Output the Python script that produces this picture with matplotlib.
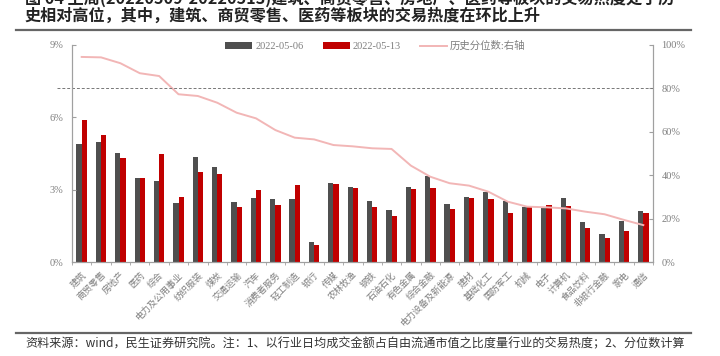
import numpy as np
import matplotlib.pyplot as plt

plt.rcParams['font.family'] = ['Liberation Serif', 'Noto Sans CJK SC', 'DejaVu Sans']

categories = ['建筑', '商贸零售', '房地产', '医药', '综合', '电力及公用事业', '纺织服装', '煤炭',
              '交通运输', '汽车', '消费者服务', '轻工制造', '银行', '传媒', '农林牧渔', '钢铁',
              '石油石化', '有色金属', '综合金融', '电力设备及新能源', '建材', '基础化工', '国防军工',
              '机械', '电子', '计算机', '食品饮料', '非银行金融', '家电', '通信']
heat_0506 = [4.89, 4.98, 4.52, 3.47, 3.36, 2.43, 4.37, 3.95, 2.50, 2.65, 2.61, 2.60, 0.82, 3.28, 3.10,
             2.53, 2.16, 3.10, 3.57, 2.39, 2.70, 2.92, 2.54, 2.30, 2.25, 2.67, 1.65, 1.15, 1.71, 2.10]
heat_0513 = [5.88, 5.27, 4.33, 3.47, 4.47, 2.68, 3.73, 3.64, 2.30, 2.97, 2.35, 3.18, 0.69, 3.22, 3.07,
             2.28, 1.91, 3.01, 3.06, 2.20, 2.65, 2.63, 2.02, 2.28, 2.36, 2.32, 1.41, 0.99, 1.27, 2.02]
percentile = [94.5, 94.3, 91.6, 87.0, 85.7, 77.3, 76.5, 73.4, 68.8, 66.2, 60.8, 57.3, 56.5, 53.9, 53.3,
              52.4, 52.1, 44.4, 39.3, 36.3, 35.2, 32.4, 27.8, 25.5, 25.2, 24.7, 23.2, 22.0, 19.4, 17.0]

title_l1 = '图 04 上周(20220509-20220513)建筑、商贸零售、房地产、医药等板块的交易热度处于历'
title_l2 = '史相对高位，其中，建筑、商贸零售、医药等板块的交易热度在环比上升'
source = '资料来源：wind，民生证券研究院。注：1、以行业日均成交金额占自由流通市值之比度量行业的交易热度；2、分位数计算'

gray, red, pink = '#4f4f4f', '#c00000', '#f2b6b6'
axis_c = '#a0a0a0'
txt_c = '#7f7f7f'

fig = plt.figure(figsize=(7.2, 3.56), dpi=100)
ax = fig.add_axes([72 / 720, 1 - 262 / 356, 581 / 720, 217 / 356])
ax2 = ax.twinx()

x = np.arange(len(categories))
w = 0.27
b1 = ax.bar(x - w / 2, heat_0506, w, color=gray, label='2022-05-06')
b2 = ax.bar(x + w / 2, heat_0513, w, color=red, label='2022-05-13')
l1, = ax2.plot(x, percentile, color=pink, lw=1.4, label='历史分位数:右轴')
ax2.plot([-1.27, len(categories) - 0.5], [80, 80], color='#777777', lw=0.7,
         dashes=(3, 2), clip_on=False)

ax.set_xlim(-0.5, len(categories) - 0.5)
ax.set_ylim(0, 9)
ax2.set_ylim(0, 100)
ax.set_yticks([0, 3, 6, 9])
ax.set_yticklabels(['0%', '3%', '6%', '9%'])
ax2.set_yticks([0, 20, 40, 60, 80, 100])
ax2.set_yticklabels([f'{v}%' for v in range(0, 101, 20)])

ax.set_xticks(x)
ax.set_xticklabels(categories, rotation=45, ha='right', rotation_mode='anchor',
                   fontsize=6.5, color=txt_c, family=['Noto Sans CJK SC'])
ax.tick_params(axis='x', length=0, pad=6)
ax.set_xticks(np.arange(-0.5, len(categories), 1), minor=True)
ax.tick_params(axis='x', which='minor', length=2.5, color=axis_c, direction='out')
ax.tick_params(axis='y', direction='in', length=3, color=axis_c, labelcolor=txt_c, labelsize=7.5, pad=6)
ax2.tick_params(axis='y', direction='in', length=3, color=axis_c, labelcolor=txt_c, labelsize=7.5, pad=6)

for a in (ax, ax2):
    a.spines['top'].set_visible(False)
    for s in ('left', 'right', 'bottom'):
        a.spines[s].set_color(axis_c)
        a.spines[s].set_linewidth(0.8)

fig.legend(handles=[b1, b2, l1], loc='center left', bbox_to_anchor=(216 / 720, 1 - 46 / 356),
           ncol=3, frameon=False, labelcolor=txt_c, handlelength=2.6,
           handleheight=0.6, handletextpad=0.3, columnspacing=1.8,
           prop={'family': ['Liberation Serif', 'Noto Sans CJK SC'], 'size': 7.5})

fig.text(25 / 720, 1 - (-2) / 356, title_l1, fontsize=11.6, fontweight='bold', va='center',
         family=['Noto Sans CJK SC'], color='#222222')
fig.text(25 / 720, 1 - 16 / 356, title_l2, fontsize=11.6, fontweight='bold', va='center',
         family=['Noto Sans CJK SC'], color='#222222')
fig.add_artist(plt.Line2D([16 / 720, 691 / 720], [1 - 30 / 356] * 2, color='#666666', lw=1.6))
fig.add_artist(plt.Line2D([16 / 720, 691 / 720], [1 - 333 / 356] * 2, color='#666666', lw=1.6))
fig.text(25 / 720, 1 - 344 / 356, source, fontsize=8.7, va='center',
         family=['Noto Sans CJK SC'], color='#333333')

fig.savefig('out.png', dpi=100)
